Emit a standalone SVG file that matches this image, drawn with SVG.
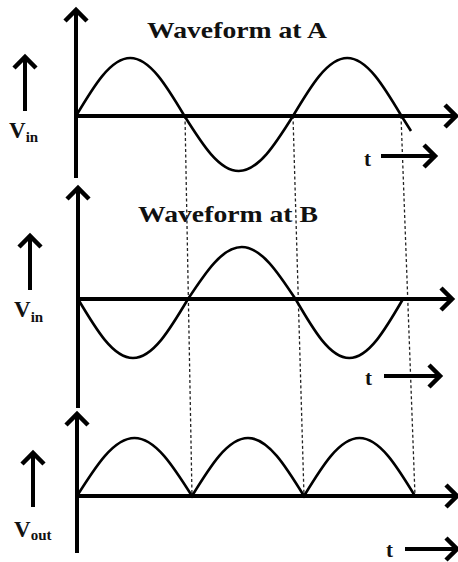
<svg xmlns="http://www.w3.org/2000/svg" width="458" height="562" viewBox="0 0 458 562">
<style>
.axis{stroke:#000;stroke-width:4;fill:none}
.head{stroke:#000;stroke-width:4.5;fill:none;stroke-linejoin:miter;stroke-miterlimit:10}
.wave{stroke:#000;stroke-width:2.6;fill:none}
.dash{stroke:#222;stroke-width:1.3;stroke-dasharray:3,2.5;fill:none}
.title{font-family:"Liberation Serif",serif;font-weight:bold;font-size:23px;fill:#111}
.lbl{font-family:"Liberation Serif",serif;font-weight:bold;font-size:23px;fill:#111}
.sub{font-size:15px}
.t{font-family:"Liberation Serif",serif;font-weight:bold;font-size:21px;fill:#111}
</style>
<rect width="458" height="562" fill="#fff"/>
<g id="guides">
<path class="dash" d="M185,116 L192,496"/>
<path class="dash" d="M293,116 L304,496"/>
<path class="dash" d="M401,116 L415,496"/>
</g>
<g id="panelA">
<text class="title" x="147" y="38" textLength="180" lengthAdjust="spacingAndGlyphs">Waveform at A</text>
<path class="axis" d="M76,11 V178"/>
<polyline class="head" points="65,21 76,10 87,21"/>
<path class="axis" d="M76,116 H454"/>
<polyline class="head" points="445,105 456,116 445,127"/>
<path class="wave" d="M76,116 C93.69,86.29 110.62,58 130.25,58 C149.88,58 166.81,86.29 184.5,116 C202.19,144.2 219.12,171 238.75,171 C258.38,171 275.31,144.2 293,116 C310.69,86.29 327.62,58 347.25,58 C366.88,58 383.81,86.29 401.5,116 L411,131"/>
<path class="axis" d="M25,58 V111"/>
<polyline class="head" points="14,68 25,57 36,68"/>
<text class="lbl" x="9" y="138">V<tspan class="sub" dy="4">in</tspan></text>
<text class="t" x="364" y="166">t</text>
<path class="axis" d="M381,156 H434"/>
<polyline class="head" points="424,145 435,156 424,167"/>
</g>
<g id="panelB">
<text class="title" x="138" y="222" textLength="180" lengthAdjust="spacingAndGlyphs">Waveform at B</text>
<path class="axis" d="M78,189 V408"/>
<polyline class="head" points="67,199 78,188 89,199"/>
<path class="axis" d="M78,299 H450"/>
<polyline class="head" points="441,288 452,299 441,310"/>
<path class="wave" d="M78,299 C95.94,329.2 113.1,358 133,358 C152.9,358 170.06,329.2 188,299 C205.53,272.4 222.3,247 241.75,247 C261.2,247 277.97,272.4 295.5,299 C313.03,329.2 329.8,358 349.25,358 C368.7,358 385.47,329.2 403,299"/>
<path class="axis" d="M30,237 V290"/>
<polyline class="head" points="19,247 30,236 41,247"/>
<text class="lbl" x="14" y="317">V<tspan class="sub" dy="5">in</tspan></text>
<text class="t" x="365" y="385">t</text>
<path class="axis" d="M384,376 H439"/>
<polyline class="head" points="429,365 440,376 429,387"/>
</g>
<g id="panelC">
<path class="axis" d="M77,415 V553"/>
<polyline class="head" points="66,425 77,414 88,425"/>
<path class="axis" d="M77,496 H455"/>
<polyline class="head" points="446,485 457,496 446,507"/>
<path class="wave" d="M77,496 C95.75,466.29 113.69,438 134.5,438 C155.31,438 173.25,466.29 192,496 C210.26,466.29 227.73,438 248,438 C268.27,438 285.74,466.29 304,496 C322.1,466.29 339.42,438 359.5,438 C379.58,438 396.9,466.29 415,496"/>
<path class="axis" d="M33,454 V507"/>
<polyline class="head" points="22,464 33,453 44,464"/>
<text class="lbl" x="14" y="537">V<tspan class="sub" dy="3">out</tspan></text>
<text class="t" x="386" y="557">t</text>
<path class="axis" d="M405,549 H454"/>
<polyline class="head" points="446,538 457,549 446,560"/>
</g>
</svg>
